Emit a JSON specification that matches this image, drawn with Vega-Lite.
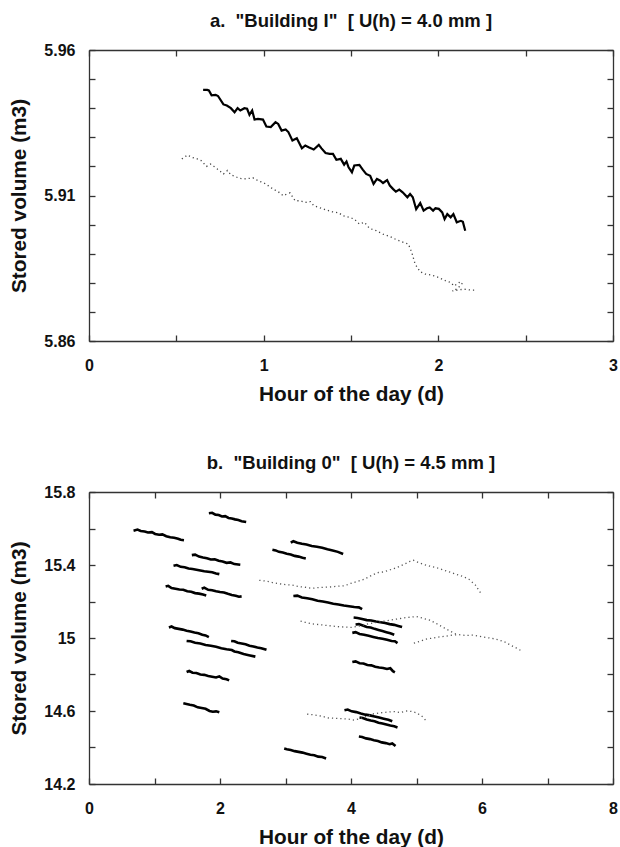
{
"$schema": "https://vega.github.io/schema/vega-lite/v6.json",
"background": "white",
"padding": {"left": 8, "top": 11, "right": 5, "bottom": 2},
"spacing": 49,
"config": {
  "view": {"stroke": null},
  "font": "Liberation Sans",
  "axis": {"grid": false, "domainColor": "#333", "domainWidth": 1.3, "tickColor": "#333", "tickWidth": 1.3, "tickSize": -6,
           "labelFont": "Liberation Sans", "labelFontSize": 16, "labelFontWeight": "bold", "labelColor": "#111",
           "titleFont": "Liberation Sans", "titleFontSize": 20.8, "titleFontWeight": "bold", "titleColor": "#111",
           "labelFlush": false, "labelOverlap": false},
  "title": {"font": "Liberation Sans", "fontSize": 18.5, "fontWeight": "bold", "color": "#111", "anchor": "middle", "offset": 12}
},
"datasets": {
  "a_solid": [
    {"x":0.6534,"y":5.9463},{"x":0.6767,"y":5.9463},{"x":0.6863,"y":5.9461},{"x":0.7018,"y":5.9444},{"x":0.7251,"y":5.9446},{"x":0.7386,"y":5.9442},{"x":0.7696,"y":5.9413},{"x":0.789,"y":5.9409},{"x":0.8122,"y":5.94},{"x":0.8335,"y":5.9386},{"x":0.8509,"y":5.94},{"x":0.8664,"y":5.9392},{"x":0.8897,"y":5.94},{"x":0.9051,"y":5.9398},{"x":0.9187,"y":5.9377},{"x":0.9342,"y":5.9392},{"x":0.9477,"y":5.9361},{"x":0.9671,"y":5.9363},{"x":0.9961,"y":5.9361},{"x":1.0155,"y":5.9337},{"x":1.0407,"y":5.9335},{"x":1.0678,"y":5.9352},{"x":1.0833,"y":5.9346},{"x":1.1026,"y":5.9323},{"x":1.1259,"y":5.9327},{"x":1.1414,"y":5.9318},{"x":1.1646,"y":5.9289},{"x":1.1898,"y":5.9297},{"x":1.2188,"y":5.9262},{"x":1.2382,"y":5.9272},{"x":1.2575,"y":5.9266},{"x":1.2866,"y":5.9258},{"x":1.3156,"y":5.9274},{"x":1.3311,"y":5.9262},{"x":1.3543,"y":5.9246},{"x":1.3776,"y":5.9243},{"x":1.3969,"y":5.9243},{"x":1.4163,"y":5.9223},{"x":1.4414,"y":5.9226},{"x":1.4608,"y":5.9206},{"x":1.4743,"y":5.9217},{"x":1.486,"y":5.9197},{"x":1.5053,"y":5.918},{"x":1.5189,"y":5.9203},{"x":1.5479,"y":5.9205},{"x":1.5673,"y":5.9189},{"x":1.5866,"y":5.9174},{"x":1.6099,"y":5.9168},{"x":1.6292,"y":5.914},{"x":1.6486,"y":5.9157},{"x":1.668,"y":5.9151},{"x":1.6834,"y":5.9143},{"x":1.7067,"y":5.9153},{"x":1.7222,"y":5.9134},{"x":1.7415,"y":5.9122},{"x":1.757,"y":5.9113},{"x":1.7764,"y":5.912},{"x":1.7957,"y":5.9111},{"x":1.8228,"y":5.9094},{"x":1.8383,"y":5.9105},{"x":1.8538,"y":5.9094},{"x":1.8731,"y":5.9053},{"x":1.8964,"y":5.9074},{"x":1.9158,"y":5.9048},{"x":1.9351,"y":5.9056},{"x":1.9506,"y":5.9059},{"x":1.97,"y":5.9048},{"x":1.9835,"y":5.9056},{"x":2.0029,"y":5.9054},{"x":2.0223,"y":5.9042},{"x":2.0358,"y":5.9019},{"x":2.0513,"y":5.9036},{"x":2.0707,"y":5.9025},{"x":2.0862,"y":5.9036},{"x":2.1055,"y":5.9008},{"x":2.1288,"y":5.9013},{"x":2.1404,"y":5.901},{"x":2.1539,"y":5.8979}
  ],
  "a_dot": [
    {"i":1,"x":0.5315,"y":5.9226},{"i":2,"x":0.545,"y":5.9231},{"i":3,"x":0.5644,"y":5.9239},{"i":4,"x":0.5895,"y":5.9231},{"i":5,"x":0.6186,"y":5.9226},{"i":6,"x":0.6418,"y":5.922},{"i":7,"x":0.6728,"y":5.92},{"i":8,"x":0.6961,"y":5.9208},{"i":9,"x":0.7154,"y":5.92},{"i":10,"x":0.7348,"y":5.9191},{"i":11,"x":0.7541,"y":5.9182},{"i":12,"x":0.7696,"y":5.9174},{"i":13,"x":0.7928,"y":5.9186},{"i":14,"x":0.8122,"y":5.9171},{"i":15,"x":0.8354,"y":5.9166},{"i":16,"x":0.8606,"y":5.9159},{"i":17,"x":0.8897,"y":5.9157},{"i":18,"x":0.9187,"y":5.9159},{"i":19,"x":0.938,"y":5.9161},{"i":20,"x":0.9671,"y":5.9151},{"i":21,"x":1.0019,"y":5.9143},{"i":22,"x":1.0252,"y":5.9134},{"i":23,"x":1.0542,"y":5.9122},{"i":24,"x":1.0833,"y":5.9113},{"i":25,"x":1.1123,"y":5.9099},{"i":26,"x":1.1317,"y":5.9105},{"i":27,"x":1.151,"y":5.9109},{"i":28,"x":1.1801,"y":5.9082},{"i":29,"x":1.2091,"y":5.9082},{"i":30,"x":1.2381,"y":5.9076},{"i":31,"x":1.2672,"y":5.9079},{"i":32,"x":1.2866,"y":5.9065},{"i":33,"x":1.3156,"y":5.9059},{"i":34,"x":1.3543,"y":5.9051},{"i":35,"x":1.3931,"y":5.9044},{"i":36,"x":1.4318,"y":5.904},{"i":37,"x":1.4511,"y":5.9031},{"i":38,"x":1.4898,"y":5.9025},{"i":39,"x":1.5189,"y":5.9019},{"i":40,"x":1.5479,"y":5.9002},{"i":41,"x":1.577,"y":5.9008},{"i":42,"x":1.606,"y":5.8987},{"i":43,"x":1.6447,"y":5.8979},{"i":44,"x":1.6834,"y":5.8967},{"i":45,"x":1.7222,"y":5.8959},{"i":46,"x":1.7609,"y":5.8948},{"i":47,"x":1.7996,"y":5.8939},{"i":48,"x":1.8287,"y":5.8933},{"i":49,"x":1.848,"y":5.8904},{"i":50,"x":1.8674,"y":5.8864},{"i":51,"x":1.8964,"y":5.8838},{"i":52,"x":1.9255,"y":5.883},{"i":53,"x":1.9642,"y":5.8826},{"i":54,"x":2.0029,"y":5.8818},{"i":55,"x":2.0416,"y":5.8807},{"i":56,"x":2.0707,"y":5.8801},{"i":57,"x":2.09,"y":5.8789},{"i":58,"x":2.1191,"y":5.8801},{"i":59,"x":2.1385,"y":5.8799},{"i":60,"x":2.1094,"y":5.878},{"i":61,"x":2.0804,"y":5.8772},{"i":62,"x":2.1191,"y":5.8776},{"i":63,"x":2.1482,"y":5.8778},{"i":64,"x":2.1869,"y":5.8775},{"i":65,"x":2.2218,"y":5.8775}
  ],
  "b_solid": [
    {"g":"S1","x":0.68,"y":15.588},{"g":"S1","x":0.74,"y":15.594},{"g":"S1","x":0.79,"y":15.586},{"g":"S1","x":0.85,"y":15.584},{"g":"S1","x":0.9,"y":15.578},{"g":"S1","x":0.96,"y":15.58},{"g":"S1","x":1.01,"y":15.57},{"g":"S1","x":1.07,"y":15.566},{"g":"S1","x":1.12,"y":15.568},{"g":"S1","x":1.18,"y":15.558},{"g":"S1","x":1.24,"y":15.552},{"g":"S1","x":1.3,"y":15.549},{"g":"S1","x":1.36,"y":15.544},{"g":"S1","x":1.4,"y":15.538},{"g":"S1","x":1.45,"y":15.536},
    {"g":"S2","x":1.83,"y":15.684},{"g":"S2","x":1.88,"y":15.686},{"g":"S2","x":1.93,"y":15.676},{"g":"S2","x":1.98,"y":15.674},{"g":"S2","x":2.03,"y":15.666},{"g":"S2","x":2.08,"y":15.668},{"g":"S2","x":2.13,"y":15.658},{"g":"S2","x":2.18,"y":15.655},{"g":"S2","x":2.23,"y":15.65},{"g":"S2","x":2.28,"y":15.646},{"g":"S2","x":2.33,"y":15.64},{"g":"S2","x":2.4,"y":15.636},
    {"g":"S3","x":1.57,"y":15.454},{"g":"S3","x":1.62,"y":15.457},{"g":"S3","x":1.68,"y":15.446},{"g":"S3","x":1.74,"y":15.441},{"g":"S3","x":1.8,"y":15.437},{"g":"S3","x":1.86,"y":15.43},{"g":"S3","x":1.92,"y":15.431},{"g":"S3","x":1.98,"y":15.423},{"g":"S3","x":2.04,"y":15.419},{"g":"S3","x":2.1,"y":15.412},{"g":"S3","x":2.16,"y":15.414},{"g":"S3","x":2.22,"y":15.405},{"g":"S3","x":2.31,"y":15.401},
    {"g":"S4","x":1.29,"y":15.396},{"g":"S4","x":1.34,"y":15.4},{"g":"S4","x":1.4,"y":15.39},{"g":"S4","x":1.46,"y":15.388},{"g":"S4","x":1.52,"y":15.381},{"g":"S4","x":1.58,"y":15.378},{"g":"S4","x":1.64,"y":15.374},{"g":"S4","x":1.7,"y":15.37},{"g":"S4","x":1.76,"y":15.366},{"g":"S4","x":1.82,"y":15.363},{"g":"S4","x":1.88,"y":15.36},{"g":"S4","x":1.94,"y":15.354},{"g":"S4","x":1.99,"y":15.35},
    {"g":"S5","x":1.17,"y":15.282},{"g":"S5","x":1.21,"y":15.286},{"g":"S5","x":1.26,"y":15.274},{"g":"S5","x":1.32,"y":15.27},{"g":"S5","x":1.38,"y":15.266},{"g":"S5","x":1.44,"y":15.264},{"g":"S5","x":1.5,"y":15.256},{"g":"S5","x":1.56,"y":15.253},{"g":"S5","x":1.62,"y":15.246},{"g":"S5","x":1.68,"y":15.243},{"g":"S5","x":1.74,"y":15.238},{"g":"S5","x":1.79,"y":15.233},
    {"g":"S6","x":1.72,"y":15.27},{"g":"S6","x":1.76,"y":15.276},{"g":"S6","x":1.82,"y":15.264},{"g":"S6","x":1.88,"y":15.262},{"g":"S6","x":1.94,"y":15.256},{"g":"S6","x":2.0,"y":15.252},{"g":"S6","x":2.06,"y":15.249},{"g":"S6","x":2.12,"y":15.242},{"g":"S6","x":2.18,"y":15.236},{"g":"S6","x":2.24,"y":15.232},{"g":"S6","x":2.29,"y":15.226},{"g":"S6","x":2.33,"y":15.228},
    {"g":"S7","x":1.22,"y":15.058},{"g":"S7","x":1.26,"y":15.063},{"g":"S7","x":1.31,"y":15.054},{"g":"S7","x":1.37,"y":15.05},{"g":"S7","x":1.43,"y":15.046},{"g":"S7","x":1.49,"y":15.04},{"g":"S7","x":1.55,"y":15.036},{"g":"S7","x":1.61,"y":15.03},{"g":"S7","x":1.67,"y":15.026},{"g":"S7","x":1.73,"y":15.018},{"g":"S7","x":1.78,"y":15.014},{"g":"S7","x":1.83,"y":15.005},
    {"g":"S8","x":1.49,"y":14.984},{"g":"S8","x":1.55,"y":14.982},{"g":"S8","x":1.62,"y":14.974},{"g":"S8","x":1.7,"y":14.97},{"g":"S8","x":1.78,"y":14.962},{"g":"S8","x":1.86,"y":14.958},{"g":"S8","x":1.94,"y":14.952},{"g":"S8","x":2.02,"y":14.944},{"g":"S8","x":2.1,"y":14.938},{"g":"S8","x":2.18,"y":14.934},{"g":"S8","x":2.22,"y":14.926},{"g":"S8","x":2.28,"y":14.922},{"g":"S8","x":2.36,"y":14.912},{"g":"S8","x":2.44,"y":14.906},{"g":"S8","x":2.54,"y":14.898},
    {"g":"S9","x":2.17,"y":14.984},{"g":"S9","x":2.22,"y":14.982},{"g":"S9","x":2.27,"y":14.974},{"g":"S9","x":2.33,"y":14.97},{"g":"S9","x":2.39,"y":14.966},{"g":"S9","x":2.45,"y":14.958},{"g":"S9","x":2.51,"y":14.954},{"g":"S9","x":2.57,"y":14.948},{"g":"S9","x":2.63,"y":14.944},{"g":"S9","x":2.71,"y":14.935},
    {"g":"S10","x":1.49,"y":14.814},{"g":"S10","x":1.53,"y":14.82},{"g":"S10","x":1.58,"y":14.81},{"g":"S10","x":1.64,"y":14.808},{"g":"S10","x":1.7,"y":14.8},{"g":"S10","x":1.76,"y":14.798},{"g":"S10","x":1.82,"y":14.792},{"g":"S10","x":1.88,"y":14.788},{"g":"S10","x":1.94,"y":14.784},{"g":"S10","x":1.99,"y":14.79},{"g":"S10","x":2.04,"y":14.778},{"g":"S10","x":2.1,"y":14.774},{"g":"S10","x":2.14,"y":14.768},
    {"g":"S11","x":1.44,"y":14.642},{"g":"S11","x":1.49,"y":14.638},{"g":"S11","x":1.54,"y":14.634},{"g":"S11","x":1.6,"y":14.63},{"g":"S11","x":1.66,"y":14.62},{"g":"S11","x":1.72,"y":14.616},{"g":"S11","x":1.78,"y":14.612},{"g":"S11","x":1.84,"y":14.6},{"g":"S11","x":1.89,"y":14.596},{"g":"S11","x":1.94,"y":14.598},{"g":"S11","x":1.99,"y":14.593},
    {"g":"S12","x":2.98,"y":14.394},{"g":"S12","x":3.02,"y":14.39},{"g":"S12","x":3.08,"y":14.386},{"g":"S12","x":3.14,"y":14.38},{"g":"S12","x":3.2,"y":14.376},{"g":"S12","x":3.26,"y":14.372},{"g":"S12","x":3.32,"y":14.366},{"g":"S12","x":3.38,"y":14.36},{"g":"S12","x":3.44,"y":14.358},{"g":"S12","x":3.5,"y":14.35},{"g":"S12","x":3.56,"y":14.348},{"g":"S12","x":3.62,"y":14.34},
    {"g":"S13","x":2.8,"y":15.484},{"g":"S13","x":2.85,"y":15.48},{"g":"S13","x":2.9,"y":15.472},{"g":"S13","x":2.96,"y":15.468},{"g":"S13","x":3.02,"y":15.462},{"g":"S13","x":3.08,"y":15.458},{"g":"S13","x":3.14,"y":15.45},{"g":"S13","x":3.2,"y":15.446},{"g":"S13","x":3.26,"y":15.44},{"g":"S13","x":3.31,"y":15.436},
    {"g":"S14","x":3.08,"y":15.522},{"g":"S14","x":3.12,"y":15.53},{"g":"S14","x":3.18,"y":15.522},{"g":"S14","x":3.25,"y":15.516},{"g":"S14","x":3.32,"y":15.512},{"g":"S14","x":3.4,"y":15.504},{"g":"S14","x":3.48,"y":15.5},{"g":"S14","x":3.56,"y":15.494},{"g":"S14","x":3.64,"y":15.486},{"g":"S14","x":3.72,"y":15.48},{"g":"S14","x":3.8,"y":15.472},{"g":"S14","x":3.88,"y":15.46},
    {"g":"S15","x":3.12,"y":15.23},{"g":"S15","x":3.18,"y":15.232},{"g":"S15","x":3.25,"y":15.222},{"g":"S15","x":3.33,"y":15.218},{"g":"S15","x":3.41,"y":15.212},{"g":"S15","x":3.49,"y":15.204},{"g":"S15","x":3.57,"y":15.2},{"g":"S15","x":3.65,"y":15.194},{"g":"S15","x":3.73,"y":15.188},{"g":"S15","x":3.81,"y":15.184},{"g":"S15","x":3.89,"y":15.178},{"g":"S15","x":3.97,"y":15.174},{"g":"S15","x":4.05,"y":15.17},{"g":"S15","x":4.12,"y":15.168},{"g":"S15","x":4.17,"y":15.158},
    {"g":"S16","x":4.04,"y":15.112},{"g":"S16","x":4.1,"y":15.11},{"g":"S16","x":4.17,"y":15.104},{"g":"S16","x":4.24,"y":15.098},{"g":"S16","x":4.31,"y":15.096},{"g":"S16","x":4.38,"y":15.09},{"g":"S16","x":4.45,"y":15.086},{"g":"S16","x":4.52,"y":15.082},{"g":"S16","x":4.59,"y":15.076},{"g":"S16","x":4.66,"y":15.072},{"g":"S16","x":4.72,"y":15.066},{"g":"S16","x":4.78,"y":15.06},
    {"g":"S17","x":4.07,"y":15.074},{"g":"S17","x":4.12,"y":15.076},{"g":"S17","x":4.18,"y":15.068},{"g":"S17","x":4.24,"y":15.06},{"g":"S17","x":4.3,"y":15.058},{"g":"S17","x":4.36,"y":15.05},{"g":"S17","x":4.42,"y":15.044},{"g":"S17","x":4.48,"y":15.038},{"g":"S17","x":4.54,"y":15.032},{"g":"S17","x":4.6,"y":15.026},{"g":"S17","x":4.66,"y":15.018},
    {"g":"S18","x":4.02,"y":15.028},{"g":"S18","x":4.07,"y":15.032},{"g":"S18","x":4.13,"y":15.022},{"g":"S18","x":4.2,"y":15.018},{"g":"S18","x":4.27,"y":15.012},{"g":"S18","x":4.34,"y":15.006},{"g":"S18","x":4.41,"y":15.0},{"g":"S18","x":4.48,"y":14.996},{"g":"S18","x":4.55,"y":14.99},{"g":"S18","x":4.62,"y":14.984},{"g":"S18","x":4.67,"y":14.982},{"g":"S18","x":4.71,"y":14.972},
    {"g":"S19","x":4.02,"y":14.868},{"g":"S19","x":4.07,"y":14.872},{"g":"S19","x":4.13,"y":14.862},{"g":"S19","x":4.19,"y":14.86},{"g":"S19","x":4.25,"y":14.852},{"g":"S19","x":4.31,"y":14.85},{"g":"S19","x":4.37,"y":14.842},{"g":"S19","x":4.43,"y":14.838},{"g":"S19","x":4.49,"y":14.836},{"g":"S19","x":4.55,"y":14.83},{"g":"S19","x":4.6,"y":14.834},{"g":"S19","x":4.64,"y":14.818},{"g":"S19","x":4.67,"y":14.812},
    {"g":"S20","x":3.9,"y":14.604},{"g":"S20","x":3.95,"y":14.608},{"g":"S20","x":4.01,"y":14.598},{"g":"S20","x":4.08,"y":14.594},{"g":"S20","x":4.15,"y":14.586},{"g":"S20","x":4.22,"y":14.58},{"g":"S20","x":4.29,"y":14.576},{"g":"S20","x":4.36,"y":14.57},{"g":"S20","x":4.43,"y":14.564},{"g":"S20","x":4.5,"y":14.558},{"g":"S20","x":4.57,"y":14.552},{"g":"S20","x":4.63,"y":14.544},
    {"g":"S21","x":4.13,"y":14.564},{"g":"S21","x":4.18,"y":14.562},{"g":"S21","x":4.24,"y":14.554},{"g":"S21","x":4.3,"y":14.548},{"g":"S21","x":4.36,"y":14.544},{"g":"S21","x":4.42,"y":14.536},{"g":"S21","x":4.48,"y":14.532},{"g":"S21","x":4.54,"y":14.526},{"g":"S21","x":4.6,"y":14.52},{"g":"S21","x":4.66,"y":14.516},{"g":"S21","x":4.71,"y":14.51},
    {"g":"S22","x":4.12,"y":14.46},{"g":"S22","x":4.17,"y":14.458},{"g":"S22","x":4.23,"y":14.45},{"g":"S22","x":4.29,"y":14.446},{"g":"S22","x":4.35,"y":14.44},{"g":"S22","x":4.41,"y":14.436},{"g":"S22","x":4.47,"y":14.428},{"g":"S22","x":4.53,"y":14.424},{"g":"S22","x":4.59,"y":14.418},{"g":"S22","x":4.63,"y":14.422},{"g":"S22","x":4.68,"y":14.408}
  ],
  "b_dot": [
    {"g":"D1","x":2.6,"y":15.316},{"g":"D1","x":2.7,"y":15.312},{"g":"D1","x":2.8,"y":15.304},{"g":"D1","x":2.9,"y":15.298},{"g":"D1","x":3.0,"y":15.292},{"g":"D1","x":3.1,"y":15.29},{"g":"D1","x":3.2,"y":15.282},{"g":"D1","x":3.3,"y":15.278},{"g":"D1","x":3.4,"y":15.272},{"g":"D1","x":3.5,"y":15.276},{"g":"D1","x":3.6,"y":15.278},{"g":"D1","x":3.7,"y":15.28},{"g":"D1","x":3.8,"y":15.284},{"g":"D1","x":3.9,"y":15.286},{"g":"D1","x":4.0,"y":15.3},{"g":"D1","x":4.1,"y":15.31},{"g":"D1","x":4.2,"y":15.322},{"g":"D1","x":4.3,"y":15.34},{"g":"D1","x":4.4,"y":15.358},{"g":"D1","x":4.5,"y":15.362},{"g":"D1","x":4.6,"y":15.374},{"g":"D1","x":4.7,"y":15.386},{"g":"D1","x":4.8,"y":15.402},{"g":"D1","x":4.9,"y":15.42},{"g":"D1","x":4.95,"y":15.426},{"g":"D1","x":5.0,"y":15.418},{"g":"D1","x":5.1,"y":15.404},{"g":"D1","x":5.2,"y":15.394},{"g":"D1","x":5.3,"y":15.386},{"g":"D1","x":5.4,"y":15.374},{"g":"D1","x":5.5,"y":15.362},{"g":"D1","x":5.6,"y":15.35},{"g":"D1","x":5.7,"y":15.338},{"g":"D1","x":5.8,"y":15.322},{"g":"D1","x":5.9,"y":15.29},{"g":"D1","x":6.0,"y":15.236},
    {"g":"D2","x":3.23,"y":15.093},{"g":"D2","x":3.3,"y":15.086},{"g":"D2","x":3.4,"y":15.078},{"g":"D2","x":3.5,"y":15.074},{"g":"D2","x":3.6,"y":15.07},{"g":"D2","x":3.7,"y":15.066},{"g":"D2","x":3.8,"y":15.062},{"g":"D2","x":3.9,"y":15.06},{"g":"D2","x":4.0,"y":15.058},{"g":"D2","x":4.1,"y":15.064},{"g":"D2","x":4.2,"y":15.072},{"g":"D2","x":4.3,"y":15.08},{"g":"D2","x":4.4,"y":15.086},{"g":"D2","x":4.5,"y":15.092},{"g":"D2","x":4.6,"y":15.098},{"g":"D2","x":4.7,"y":15.104},{"g":"D2","x":4.8,"y":15.11},{"g":"D2","x":4.9,"y":15.114},{"g":"D2","x":5.0,"y":15.118},{"g":"D2","x":5.1,"y":15.108},{"g":"D2","x":5.2,"y":15.098},{"g":"D2","x":5.3,"y":15.08},{"g":"D2","x":5.4,"y":15.06},{"g":"D2","x":5.5,"y":15.04},{"g":"D2","x":5.6,"y":15.022},
    {"g":"D3","x":4.96,"y":14.972},{"g":"D3","x":5.05,"y":14.982},{"g":"D3","x":5.15,"y":14.994},{"g":"D3","x":5.25,"y":15.0},{"g":"D3","x":5.35,"y":15.006},{"g":"D3","x":5.45,"y":15.01},{"g":"D3","x":5.55,"y":15.016},{"g":"D3","x":5.65,"y":15.018},{"g":"D3","x":5.75,"y":15.014},{"g":"D3","x":5.85,"y":15.016},{"g":"D3","x":5.95,"y":15.01},{"g":"D3","x":6.05,"y":15.004},{"g":"D3","x":6.15,"y":14.998},{"g":"D3","x":6.25,"y":14.99},{"g":"D3","x":6.35,"y":14.978},{"g":"D3","x":6.45,"y":14.958},{"g":"D3","x":6.52,"y":14.946},{"g":"D3","x":6.6,"y":14.93},
    {"g":"D4","x":3.33,"y":14.583},{"g":"D4","x":3.45,"y":14.578},{"g":"D4","x":3.55,"y":14.572},{"g":"D4","x":3.65,"y":14.562},{"g":"D4","x":3.75,"y":14.56},{"g":"D4","x":3.85,"y":14.558},{"g":"D4","x":3.95,"y":14.556},{"g":"D4","x":4.05,"y":14.55},{"g":"D4","x":4.15,"y":14.56},{"g":"D4","x":4.25,"y":14.572},{"g":"D4","x":4.35,"y":14.585},{"g":"D4","x":4.45,"y":14.59},{"g":"D4","x":4.55,"y":14.594},{"g":"D4","x":4.65,"y":14.597},{"g":"D4","x":4.75,"y":14.592},{"g":"D4","x":4.85,"y":14.6},{"g":"D4","x":4.92,"y":14.598},{"g":"D4","x":5.0,"y":14.59},{"g":"D4","x":5.08,"y":14.572},{"g":"D4","x":5.15,"y":14.546}
  ]
},
"vconcat": [
  {
    "width": 524, "height": 291,
    "title": "a.\u00a0 \"Building I\"\u00a0 [ U(h) = 4.0 mm ]",
    "layer": [
      {
        "data": {"name": "a_solid"},
        "mark": {"type": "line", "color": "#000", "strokeWidth": 2.2},
        "encoding": {
          "x": {"field": "x", "type": "quantitative", "scale": {"domain": [0, 3], "nice": false, "zero": false},
                "axis": {"orient": "bottom", "values": [0, 0.5, 1, 1.5, 2, 2.5, 3], "labelExpr": "datum.value % 1 == 0 ? format(datum.value, 'd') : ''", "labelPadding": 22, "title": "Hour of the day (d)", "titlePadding": 11}},
          "y": {"field": "y", "type": "quantitative", "scale": {"domain": [5.86, 5.96], "nice": false, "zero": false},
                "axis": {"orient": "left", "values": [5.86, 5.87, 5.88, 5.89, 5.9, 5.91, 5.92, 5.93, 5.94, 5.95, 5.96], "labelExpr": "indexof(['5.86','5.91','5.96'], format(datum.value, '.2f')) >= 0 ? format(datum.value, '.2f') : ''", "labelPadding": 20, "title": "Stored volume (m3)", "titlePadding": 14}}
        }
      },
      {
        "data": {"name": "a_dot"},
        "mark": {"type": "line", "color": "#444", "strokeWidth": 1.3, "strokeDash": [1.2, 3]},
        "encoding": {
          "x": {"field": "x", "type": "quantitative", "axis": {"orient": "top", "values": [0, 0.5, 1, 1.5, 2, 2.5, 3], "labels": false, "title": null}},
          "y": {"field": "y", "type": "quantitative", "axis": {"orient": "right", "values": [5.86, 5.87, 5.88, 5.89, 5.9, 5.91, 5.92, 5.93, 5.94, 5.95, 5.96], "labels": false, "title": null}},
          "order": {"field": "i", "type": "quantitative"}
        }
      }
    ],
    "resolve": {"axis": {"x": "independent", "y": "independent"}}
  },
  {
    "width": 524, "height": 292,
    "title": "b.\u00a0 \"Building 0\"\u00a0 [ U(h) = 4.5 mm ]",
    "layer": [
      {
        "data": {"name": "b_solid"},
        "mark": {"type": "line", "color": "#000", "strokeWidth": 2.6},
        "encoding": {
          "x": {"field": "x", "type": "quantitative", "scale": {"domain": [0, 8], "nice": false, "zero": false},
                "axis": {"orient": "bottom", "values": [0, 1, 2, 3, 4, 5, 6, 7, 8], "labelExpr": "datum.value % 2 == 0 ? format(datum.value, 'd') : ''", "labelPadding": 22, "title": "Hour of the day (d)", "titlePadding": 11}},
          "y": {"field": "y", "type": "quantitative", "scale": {"domain": [14.2, 15.8], "nice": false, "zero": false},
                "axis": {"orient": "left", "values": [14.2, 14.4, 14.6, 14.8, 15, 15.2, 15.4, 15.6, 15.8], "labelExpr": "indexof(['14.2','14.6','15.0','15.4','15.8'], format(datum.value, '.1f')) >= 0 ? format(datum.value, '.3~g') : ''", "labelPadding": 20, "title": "Stored volume (m3)", "titlePadding": 14}},
          "detail": {"field": "g", "type": "nominal"}
        }
      },
      {
        "data": {"name": "b_dot"},
        "mark": {"type": "line", "color": "#555", "strokeWidth": 1.3, "strokeDash": [1.2, 3]},
        "encoding": {
          "x": {"field": "x", "type": "quantitative", "axis": {"orient": "top", "values": [0, 1, 2, 3, 4, 5, 6, 7, 8], "labels": false, "title": null}},
          "y": {"field": "y", "type": "quantitative", "axis": {"orient": "right", "values": [14.2, 14.4, 14.6, 14.8, 15, 15.2, 15.4, 15.6, 15.8], "labels": false, "title": null}},
          "detail": {"field": "g", "type": "nominal"}
        }
      }
    ],
    "resolve": {"axis": {"x": "independent", "y": "independent"}}
  }
]
}
